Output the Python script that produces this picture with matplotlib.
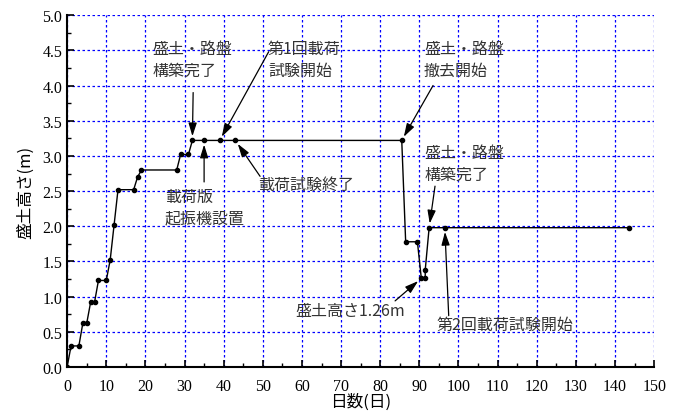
import matplotlib.pyplot as plt
import numpy as np

plt.rcParams['font.family'] = ['Noto Sans CJK JP', 'DejaVu Sans']

# 盛土高さの推移
days = [0, 1, 3, 4, 5, 6, 7, 8, 10, 11, 12, 13, 17, 18, 19, 28, 29, 31, 32, 35, 39, 43,
        85.5, 86.5, 89.5, 90.5, 91.5, 91.5, 92.5, 96.5, 143.5]
height = [0.0, 0.3, 0.3, 0.62, 0.62, 0.92, 0.92, 1.23, 1.23, 1.52, 2.02, 2.52, 2.52, 2.70, 2.80,
          2.80, 3.02, 3.02, 3.22, 3.22, 3.22, 3.22,
          3.22, 1.78, 1.78, 1.26, 1.26, 1.38, 1.98, 1.98, 1.98]

# 注記: (文字, 矢印先の日, 矢印先の高さ, 文字位置x, 文字位置y, 矢印始点x, 矢印始点y)
notes = [
    ('盛土・路盤\n構築完了', 32, 3.22, 21.7, 4.37, 32.2, 3.9),
    ('第1回載荷\n試験開始', 39, 3.22, 51.3, 4.37, 51.5, 4.48),
    ('載荷版\n起振機設置', 35, 3.22, 25.0, 2.27, 35, 2.63),
    ('載荷試験終了', 43, 3.22, 48.8, 2.59, 49.3, 2.71),
    ('盛土・路盤\n撤去開始', 85.5, 3.22, 91.2, 4.37, 93.5, 4.0),
    ('盛土・路盤\n構築完了', 92.5, 1.98, 91.2, 2.9, 94.0, 2.57),
    ('盛土高さ1.26m', 90.5, 1.26, 58.3, 0.81, 83.8, 0.94),
    ('第2回載荷試験開始', 96.5, 1.98, 94.3, 0.6, 97.5, 0.73),
]

fig = plt.figure(figsize=(6.85, 4.14), dpi=100)
ax = fig.add_axes([0.098, 0.111, 0.857, 0.85])

ax.plot(days, height, color='black', linewidth=1.0, marker='o', markersize=3.0)

for txt, xd, yd, tx, ty, sx, sy in notes:
    ax.text(tx, ty, txt, fontsize=11.5, color='#333333', ha='left', va='center',
            linespacing=1.35)
    ax.annotate('', xy=(xd, yd), xytext=(sx, sy),
                arrowprops=dict(arrowstyle='-|>,head_length=0.8,head_width=0.25',
                                color='black', lw=0.9, shrinkA=0, shrinkB=3))

ax.set_xlim(0, 150)
ax.set_ylim(0, 5)
ax.set_xticks(np.arange(0, 151, 10))
ax.set_yticks(np.arange(0, 5.01, 0.5))
ax.set_xticks(np.arange(0, 151, 5), minor=True)
ax.set_yticks(np.arange(0, 5.01, 0.25), minor=True)
ax.set_yticklabels([f'{v:.1f}' for v in np.arange(0, 5.01, 0.5)])
for lab in ax.get_xticklabels() + ax.get_yticklabels():
    lab.set_family('Liberation Serif')
    lab.set_fontsize(11.5)
ax.tick_params(which='major', direction='in', length=5, width=1.2)
ax.tick_params(which='minor', direction='in', length=3, width=1.0)
ax.tick_params(axis='x', pad=8)

ax.grid(True, which='major', color='blue', linestyle=(0, (2, 2)), linewidth=0.9)
ax.spines['top'].set_visible(False)
ax.spines['right'].set_visible(False)
ax.spines['left'].set_linewidth(1.5)
ax.spines['bottom'].set_linewidth(1.5)

ax.set_xlabel('日数(日)', fontsize=12, labelpad=-1)
ax.set_ylabel('盛土高さ(m)', fontsize=12, labelpad=6)

fig.savefig('out.png', dpi=100)
